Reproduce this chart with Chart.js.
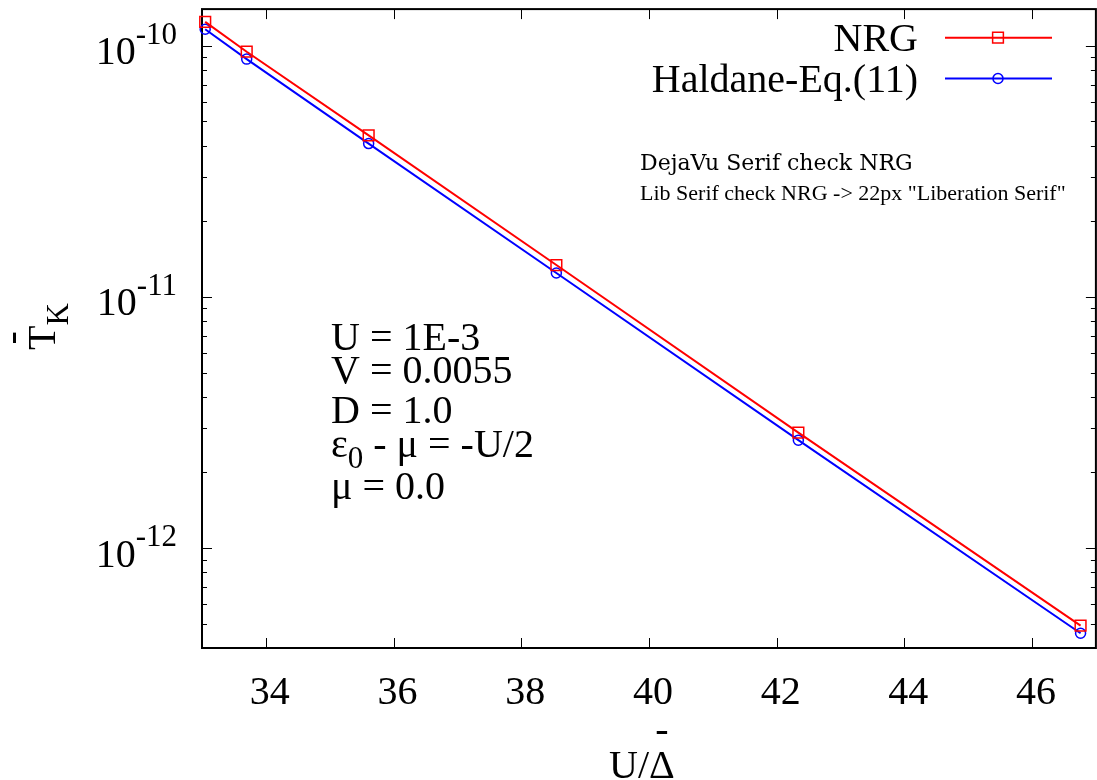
<!DOCTYPE html>
<html>
<head>
<meta charset="utf-8">
<script src="https://cdn.jsdelivr.net/npm/chart.js@4/dist/chart.umd.min.js"></script>
</head>
<body style="margin:0">
<div style="width:1097px;height:780px;overflow:hidden">
<canvas id="tkChart" width="1105" height="780"></canvas>
</div>
<script>
// U / Delta-bar values and the Kondo temperature from both methods
const uOverDelta = [33.05, 33.70, 35.61, 38.55, 42.34, 46.76];
const nrgTk = [1.245e-10, 9.47e-11, 4.40e-11, 1.34e-11, 2.88e-12, 4.91e-13];
const haldaneTk = [1.164e-10, 8.85e-11, 4.08e-11, 1.245e-11, 2.69e-12, 4.58e-13];
const seriesNames = ["NRG", "Haldane-Eq.(11)"];
const xTicks = [34, 36, 38, 40, 42, 44, 46];
const yDecades = [-13, -12, -11, -10];
// "_0" marks a subscript, like in gnuplot
const paramLines = ["U = 1E-3", "V = 0.0055", "D = 1.0", "ε_0 - μ = -U/2", "μ = 0.0"];

const bigFont = '40px "Liberation Serif"';
const smallFont = '31px "Liberation Serif"';

function drawMarker(c, style, x, y, r) {
  c.beginPath();
  if (style === "rect") {
    const s = r * Math.SQRT1_2;
    c.rect(x - s, y - s, 2 * s, 2 * s);
  } else {
    c.arc(x, y, r, 0, Math.PI * 2);
  }
  c.stroke();
}

const gnuplotLook = {
  id: "gnuplotLook",
  beforeDatasetsDraw(chart) {
    const { ctx: c, chartArea: a, scales: { x, y } } = chart;
    c.save();
    c.strokeStyle = "#000";
    // inward ticks, mirrored on top and right
    c.lineWidth = 1;
    c.beginPath();
    xTicks.forEach(v => {
      const px = Math.round(x.getPixelForValue(v)) + 0.5;
      c.moveTo(px, a.bottom); c.lineTo(px, a.bottom - 10);
      c.moveTo(px, a.top); c.lineTo(px, a.top + 10);
    });
    yDecades.forEach(e => {
      for (let m = 1; m <= 9; m++) {
        const v = m * Math.pow(10, e);
        if (v < y.min || v > y.max) continue;
        const py = Math.round(y.getPixelForValue(v)) + 0.5;
        const len = m === 1 ? 10 : 5;
        c.moveTo(a.left, py); c.lineTo(a.left + len, py);
        c.moveTo(a.right, py); c.lineTo(a.right - len, py);
      }
    });
    c.stroke();
    c.lineWidth = 2;
    c.strokeRect(a.left, a.top, a.right - a.left, a.bottom - a.top);
    c.restore();
  },
  afterDraw(chart) {
    const { ctx: c, scales: { x, y } } = chart;
    c.save();
    c.fillStyle = "#000";

    // temporary font check
    c.font = '22px "DejaVu Serif"';
    c.fillText("DejaVu Serif check NRG", 640, 170);
    c.font = bigFont;
    c.font = '22px ' + '"Liberation Serif"';
    c.fillText("Lib Serif check NRG -> " + c.font, 640, 200);

    // x tick labels
    c.font = bigFont;
    c.textAlign = "center";
    xTicks.forEach(v => {
      c.fillText(String(v), x.getPixelForValue(v) + 4, 704);
    });

    // y tick labels 10^e
    c.textAlign = "left";
    yDecades.forEach(e => {
      const v = Math.pow(10, e);
      if (v < y.min || v > y.max) return;
      const py = y.getPixelForValue(v);
      const sup = String(e);
      c.font = bigFont;
      const w1 = c.measureText("10").width;
      c.font = smallFont;
      const w2 = c.measureText(sup).width;
      const x0 = 177 - w1 - w2;
      c.font = bigFont;
      c.fillText("10", x0, py + 18.5);
      c.font = smallFont;
      c.fillText(sup, x0 + w1, py - 2);
    });

    // y title: T-bar with subscript K, rotated
    c.save();
    c.translate(55, 350);
    c.rotate(-Math.PI / 2);
    c.font = bigFont;
    c.textAlign = "left";
    const wT = c.measureText("T").width;
    c.fillText("T", 0, 0);
    c.textAlign = "center";
    c.fillText("-", wT / 2, -31);
    c.textAlign = "left";
    c.font = smallFont;
    c.fillText("K", wT, 13);
    c.restore();

    // x title: U/Delta-bar
    c.font = bigFont;
    c.textAlign = "left";
    const wU = c.measureText("U/").width;
    const wD = c.measureText("Δ").width;
    const xs = 609;
    c.fillText("U/Δ", xs, 778);
    c.textAlign = "center";
    c.fillText("-", xs + wU + wD / 2, 742);

    // parameter text
    const baselines = [350, 383.3, 423.3, 456.7, 499.3];
    c.textAlign = "left";
    paramLines.forEach((line, i) => {
      let cx = 331;
      line.split(/(_\w)/).forEach(p => {
        if (!p) return;
        if (p[0] === "_") {
          c.font = smallFont;
          c.fillText(p.slice(1), cx, baselines[i] + 11);
          cx += c.measureText(p.slice(1)).width;
        } else {
          c.font = bigFont;
          c.fillText(p, cx, baselines[i]);
          cx += c.measureText(p).width;
        }
      });
    });

    // legend: text, then line sample with marker
    chart.data.datasets.forEach((ds, i) => {
      const ly = 37.7 + i * 40.8;
      c.font = bigFont;
      c.textAlign = "right";
      c.fillStyle = "#000";
      c.fillText(ds.label, 918, ly + 13);
      c.strokeStyle = ds.borderColor;
      c.lineWidth = 2;
      c.beginPath();
      c.moveTo(945, ly); c.lineTo(1052, ly);
      c.stroke();
      c.lineWidth = ds.pointBorderWidth;
      drawMarker(c, ds.pointStyle, 998, ly, ds.pointRadius);
    });
    c.restore();
  }
};

const ctx = document.getElementById("tkChart").getContext("2d");

const tkChart = new Chart(ctx, {
  type: "line",
  data: {
    datasets: [
      {
        label: seriesNames[0],
        data: uOverDelta.map((u, i) => ({ x: u, y: nrgTk[i] })),
        borderColor: "#ff0000",
        backgroundColor: "rgba(0,0,0,0)",
        borderWidth: 2,
        pointStyle: "rect",
        pointRadius: 7.6,
        pointBorderWidth: 1.5,
        pointBackgroundColor: "rgba(0,0,0,0)",
        tension: 0,
        clip: false,
      },
      {
        label: seriesNames[1],
        data: uOverDelta.map((u, i) => ({ x: u, y: haldaneTk[i] })),
        borderColor: "#0000ff",
        backgroundColor: "rgba(0,0,0,0)",
        borderWidth: 2,
        pointStyle: "circle",
        pointRadius: 5,
        pointBorderWidth: 1.5,
        pointBackgroundColor: "rgba(0,0,0,0)",
        tension: 0,
        clip: false,
      },
    ],
  },
  options: {
    responsive: false,
    animation: false,
    layout: { padding: { top: 7, right: 4, left: 0, bottom: 0 } },
    plugins: {
      legend: { display: false },
      tooltip: { enabled: false },
    },
    scales: {
      x: {
        type: "linear",
        min: 33,
        max: 47,
        grid: { display: false },
        border: { display: false },
        ticks: { display: false },
        afterFit: (s) => { s.height = 132; },
      },
      y: {
        type: "logarithmic",
        min: 4e-13,
        max: 1.4e-10,
        grid: { display: false },
        border: { display: false },
        ticks: { display: false },
        afterFit: (s) => { s.width = 202; },
      },
    },
  },
  plugins: [gnuplotLook],
});
</script>
</body>
</html>
